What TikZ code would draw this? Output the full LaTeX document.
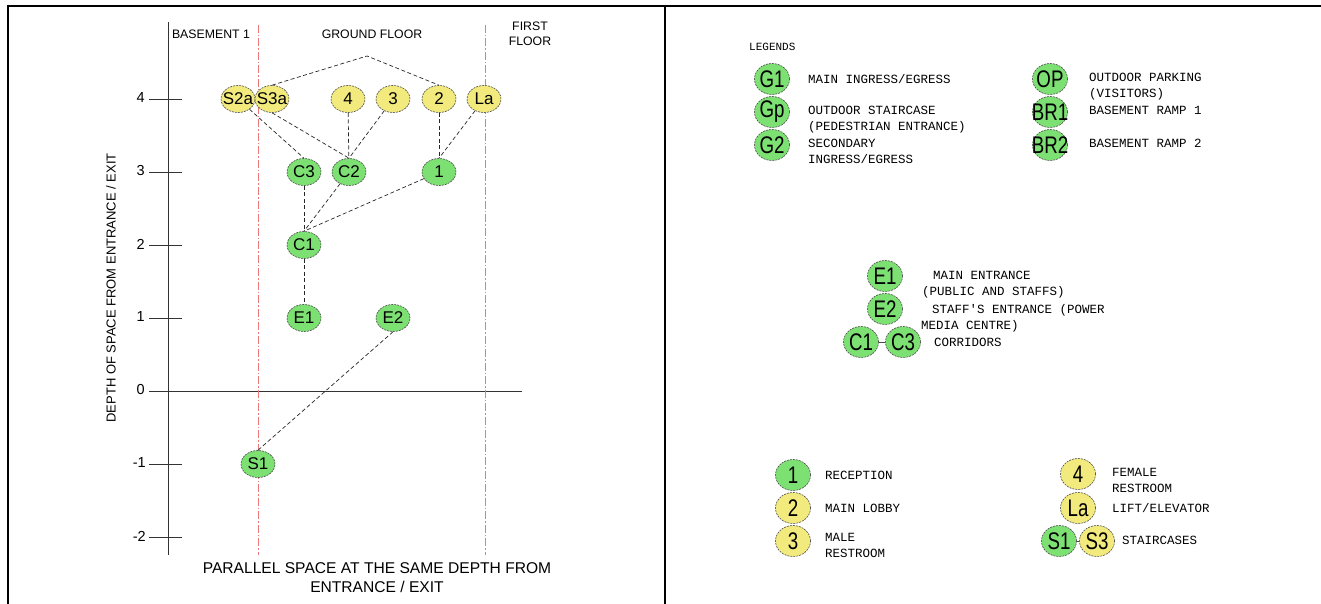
\documentclass[tikz,border=0pt]{standalone}
\usepackage{fontspec}
\setmainfont{Liberation Sans}
\newfontfamily\cadfont{Liberation Mono}
\usetikzlibrary{shapes.geometric}
\definecolor{ngreen}{RGB}{125,224,115}
\definecolor{nyellow}{RGB}{242,234,125}
\definecolor{redline}{RGB}{235,120,120}
\newcommand\ctr[1]{\makebox[0pt]{#1}}
\newcommand\lgt[1]{\makebox[0pt]{\scalebox{0.78}[1]{#1}}}
\begin{document}
\begin{tikzpicture}[x=1pt,y=-1pt,
  nd/.style={ellipse, draw=black!70, dash pattern=on 2pt off 1pt, line width=0.6pt,
    minimum width=34pt, minimum height=27pt, inner sep=0pt, font=\fontsize{17}{17}\selectfont},
  gn/.style={nd, fill=ngreen}, yn/.style={nd, fill=nyellow},
  lnode/.style={ellipse, draw=black!70, dash pattern=on 2pt off 1pt, line width=0.6pt,
    minimum width=35pt, minimum height=31pt, inner sep=0pt, font=\fontsize{24}{24}\selectfont},
  lg/.style={lnode, fill=ngreen}, ly/.style={lnode, fill=nyellow},
  link/.style={draw=black!85, line width=0.7pt, dash pattern=on 4pt off 2.5pt},
  floorline/.style={draw=redline, line width=0.7pt, dash pattern=on 8pt off 2pt on 1.5pt off 2pt},
  axisline/.style={draw=black!80, line width=0.9pt},
  hdr/.style={font=\fontsize{12.3}{15}\selectfont, inner sep=0pt, align=center},
  ticklab/.style={font=\fontsize{14.5}{14.5}\selectfont, anchor=east, inner sep=0pt},
  lt/.style={font=\cadfont\fontsize{12.5}{16}\selectfont, align=left, anchor=base west, inner sep=0pt},
]
\useasboundingbox (0,0) rectangle (1321,604);
% frame
\draw[line width=1.6pt] (7,6) -- (1321,6);
\draw[line width=2pt] (8,5) -- (8,604);
\draw[line width=2pt] (665,6) -- (665,604);

% axes
\draw[axisline] (168,22) -- (168,555);
\draw[axisline] (149,391) -- (522,391);
\foreach \v/\yy in {4/99,3/172,2/245,1/318,-1/464,-2/537}
  \draw[axisline] (149,\yy) -- (182,\yy);
\node[ticklab] (t4) at (145,98) {4};
\node[ticklab] (t3) at (145,171) {3};
\node[ticklab] (t2) at (145,244) {2};
\node[ticklab] (t1) at (145,317) {1};
\node[ticklab] (t0) at (145,390) {0};
\node[ticklab] (tm1) at (146,463) {-1};
\node[ticklab] (tm2) at (146,536) {-2};

% floor divisions
\draw[floorline] (258,25) -- (258,555);
\draw[floorline] (485,25) -- (485,555);

% headers
\node[hdr] (b1) at (211,34) {BASEMENT 1};
\node[hdr] (gf) at (372,34) {GROUND FLOOR};
\node[hdr] (ff) at (530,34) {FIRST\\FLOOR};

% axis labels
\node[font=\fontsize{13}{13}\selectfont, rotate=90, inner sep=0pt] (ylab) at (111,288) {DEPTH OF SPACE FROM ENTRANCE / EXIT};
\node[font=\fontsize{15.6}{19}\selectfont, align=center, inner sep=0pt] (xlab) at (377,578) {PARALLEL SPACE AT THE SAME DEPTH FROM\\ENTRANCE / EXIT};

% nodes
\node[yn] (S2a) at (238,99) {\ctr{S2a}};
\node[yn] (S3a) at (272,99) {\ctr{S3a}};
\node[yn] (n4) at (348,99) {\ctr{4}};
\node[yn] (n3) at (393,99) {\ctr{3}};
\node[yn] (n2) at (439,99) {\ctr{2}};
\node[yn] (La) at (484,99) {\ctr{La}};
\node[gn] (C3) at (304,172) {\ctr{C3}};
\node[gn] (C2) at (349,172) {\ctr{C2}};
\node[gn] (n1) at (439,172) {\ctr{1}};
\node[gn] (C1) at (304,245) {\ctr{C1}};
\node[gn] (E1) at (304,318) {\ctr{E1}};
\node[gn] (E2) at (393,318) {\ctr{E2}};
\node[gn] (S1) at (258,464) {\ctr{S1}};

% links
\coordinate (apex) at (367,56);
\draw[link] (S3a.north) -- (apex) -- (n2.north);
\draw[link] (S2a) -- (C3.north);
\draw[link] (S3a.south) -- (C2.north);
\draw[link] (n4) -- (C2);
\draw[link] (n3) -- (C2.north);
\draw[link] (n2) -- (n1);
\draw[link] (La) -- (n1.north);
\draw[link] (C3) -- (C1);
\draw[link] (C2) -- (C1.north);
\draw[link] (n1) -- (C1.north);
\draw[link] (C1) -- (E1);
\draw[link] (E2.south) -- (S1.north);

% legends
\node[lt, font=\cadfont\fontsize{11}{14}\selectfont] (leg) at (749,51) {LEGENDS};
\node[lg] (G1) at (772,79) {\lgt{G1}};
\node[lg] (Gp) at (772,112) {\lgt{Gp}};
\node[lg] (G2) at (772,145) {\lgt{G2}};
\node[lt] (tG1) at (808,84) {MAIN INGRESS/EGRESS};
\node[lt] (tGp) at (808,131) {OUTDOOR STAIRCASE\\(PEDESTRIAN ENTRANCE)};
\node[lt] (tG2) at (808,164) {SECONDARY\\INGRESS/EGRESS};
\node[lg] (OP) at (1050,79) {\lgt{OP}};
\node[lg] (BR1) at (1050,112) {\lgt{BR1}};
\node[lg] (BR2) at (1050,145) {\lgt{BR2}};
\node[lt] (tOP) at (1089,98) {OUTDOOR PARKING\\(VISITORS)};
\node[lt] (tBR1) at (1089,115) {BASEMENT RAMP 1};
\node[lt] (tBR2) at (1089,148) {BASEMENT RAMP 2};

\node[lg] (E1L) at (885,276) {\lgt{E1}};
\node[lg] (E2L) at (885,309) {\lgt{E2}};
\node[lg] (C1L) at (861,342) {\lgt{C1}};
\node[lg] (C3L) at (903,342) {\lgt{C3}};
\draw[black!70, line width=0.7pt] (C1L) -- (C3L);
\node[lt] (tE1) at (922,295) {\hspace{11pt}MAIN ENTRANCE\\(PUBLIC AND STAFFS)};
\node[lt] (tE2) at (921,329) {\hspace{11pt}STAFF\textquotesingle S ENTRANCE (POWER\\MEDIA CENTRE)};
\node[lt] (tC) at (934,346) {CORRIDORS};

\node[lg] (n1L) at (793,475) {\lgt{1}};
\node[ly] (n2L) at (793,508) {\lgt{2}};
\node[ly] (n3L) at (793,541) {\lgt{3}};
\node[lt] (tn1) at (825,479) {RECEPTION};
\node[lt] (tn2) at (825,512) {MAIN LOBBY};
\node[lt] (tn3) at (825,557) {MALE\\RESTROOM};
\node[ly] (n4L) at (1078,474) {\lgt{4}};
\node[ly] (LaL) at (1078,508) {\lgt{La}};
\node[lg] (S1L) at (1059,541) {\lgt{S1}};
\node[ly] (S3L) at (1097,541) {\lgt{S3}};
\draw[black!70, line width=0.7pt] (S1L) -- (S3L);
\node[lt] (tn4) at (1112,492) {FEMALE\\RESTROOM};
\node[lt] (tLa) at (1112,512) {LIFT/ELEVATOR};
\node[lt] (tS) at (1122,544) {STAIRCASES};
\end{tikzpicture}
\end{document}
